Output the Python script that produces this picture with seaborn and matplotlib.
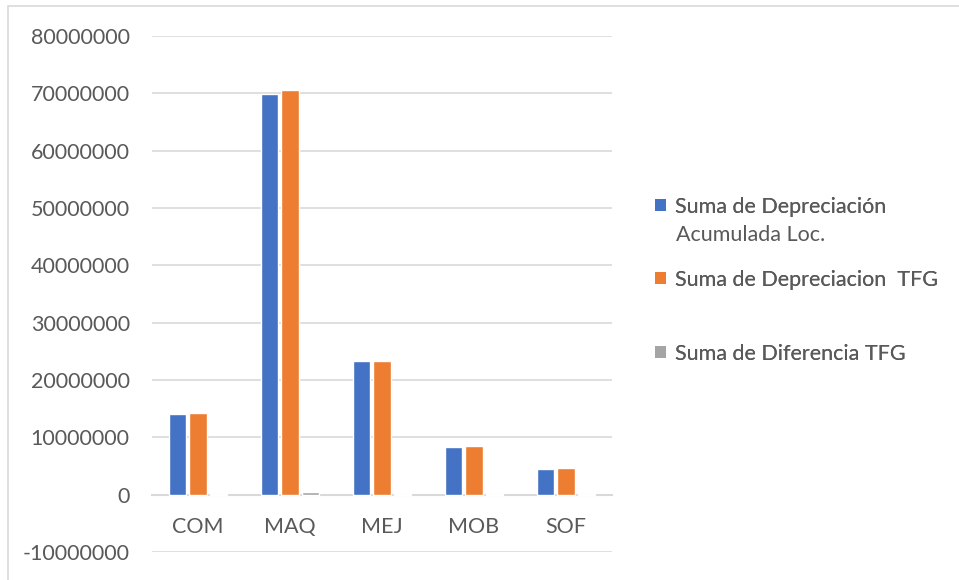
import pandas as pd
import seaborn as sns
import matplotlib.pyplot as plt
from matplotlib.patches import Rectangle, Patch

# Data
categories = ['COM', 'MAQ', 'MEJ', 'MOB', 'SOF']
series = ['Suma de Depreciación Acumulada Loc.',
          'Suma de Depreciacion  TFG',
          'Suma de Diferencia TFG']
dep_loc = [14150000, 69950000, 23300000, 8400000, 4550000]
dep_tfg = [14200000, 70500000, 23350000, 8450000, 4580000]
diferencia = [50000, 550000, 50000, 50000, 30000]

colors = ['#4472C4', '#ED7D31', '#A5A5A5']
text_color = '#595959'
grid_color = '#D9D9D9'

rows = []
for name, vals in zip(series, [dep_loc, dep_tfg, diferencia]):
	for cat, v in zip(categories, vals):
		rows.append((cat, name, v))
df = pd.DataFrame(rows, columns=['Categoria', 'Serie', 'Valor'])

sns.set_style('white')
plt.rcParams['font.family'] = ['Lato', 'DejaVu Sans']

fig = plt.figure(figsize=(9.59, 5.8), dpi=100)
ax = fig.add_axes([152 / 959, 1 - 552 / 580, 460 / 959, 516 / 580])

sns.barplot(data=df, x='Categoria', y='Valor', hue='Serie',
	palette=colors, width=0.68, gap=0.18, legend=False, ax=ax,
	saturation=1, zorder=3)

ax.set_ylim(-10000000, 80000000)
ax.set_yticks(range(-10000000, 80000001, 10000000))
ax.set_yticklabels([str(v) for v in range(-10000000, 80000001, 10000000)])
ax.set_xlim(-0.5, 4.5)

# gridlines
ax.grid(axis='y', color=grid_color, linewidth=1.2, zorder=0)
ax.grid(axis='x', visible=False)
for s in ['left', 'right', 'top']:
	ax.spines[s].set_visible(False)
ax.spines['bottom'].set_position(('data', 0))
ax.spines['bottom'].set_color(grid_color)
ax.spines['bottom'].set_linewidth(1.5)
ax.spines['bottom'].set_zorder(2)

ax.tick_params(axis='y', length=0, pad=16, labelsize=15.5, labelcolor=text_color)
ax.tick_params(axis='x', length=0, pad=16, labelsize=15.5, labelcolor=text_color)
ax.set_xlabel('')
ax.set_ylabel('')

# legend, one entry at a time to match spacing
lx = 655 / 959
legend_y = [207, 280, 354]
legend_labels = ['Suma de Depreciación', 'Suma de Depreciacion  TFG', 'Suma de Diferencia TFG']
for c, lab, yy in zip(colors, legend_labels, legend_y):
	leg = fig.legend(handles=[Patch(facecolor=c, edgecolor='none')], labels=[lab],
		loc='center left', bbox_to_anchor=(lx, 1 - yy / 580), frameon=False,
		fontsize=15.5, handlelength=0.5, handleheight=0.5, handletextpad=0.45,
		borderpad=0, borderaxespad=0, labelcolor=text_color)
	fig.add_artist(leg)
fig.text(676 / 959, 1 - 235 / 580, 'Acumulada Loc.', fontsize=15.5,
	color=text_color, va='center', ha='left')

# chart area border
fig.add_artist(Rectangle((8 / 959, -0.01), 1.0, 1 - 6 / 580 + 0.01,
	transform=fig.transFigure, fill=False, edgecolor=grid_color, linewidth=1.2))

plt.savefig('out.png', dpi=100)
